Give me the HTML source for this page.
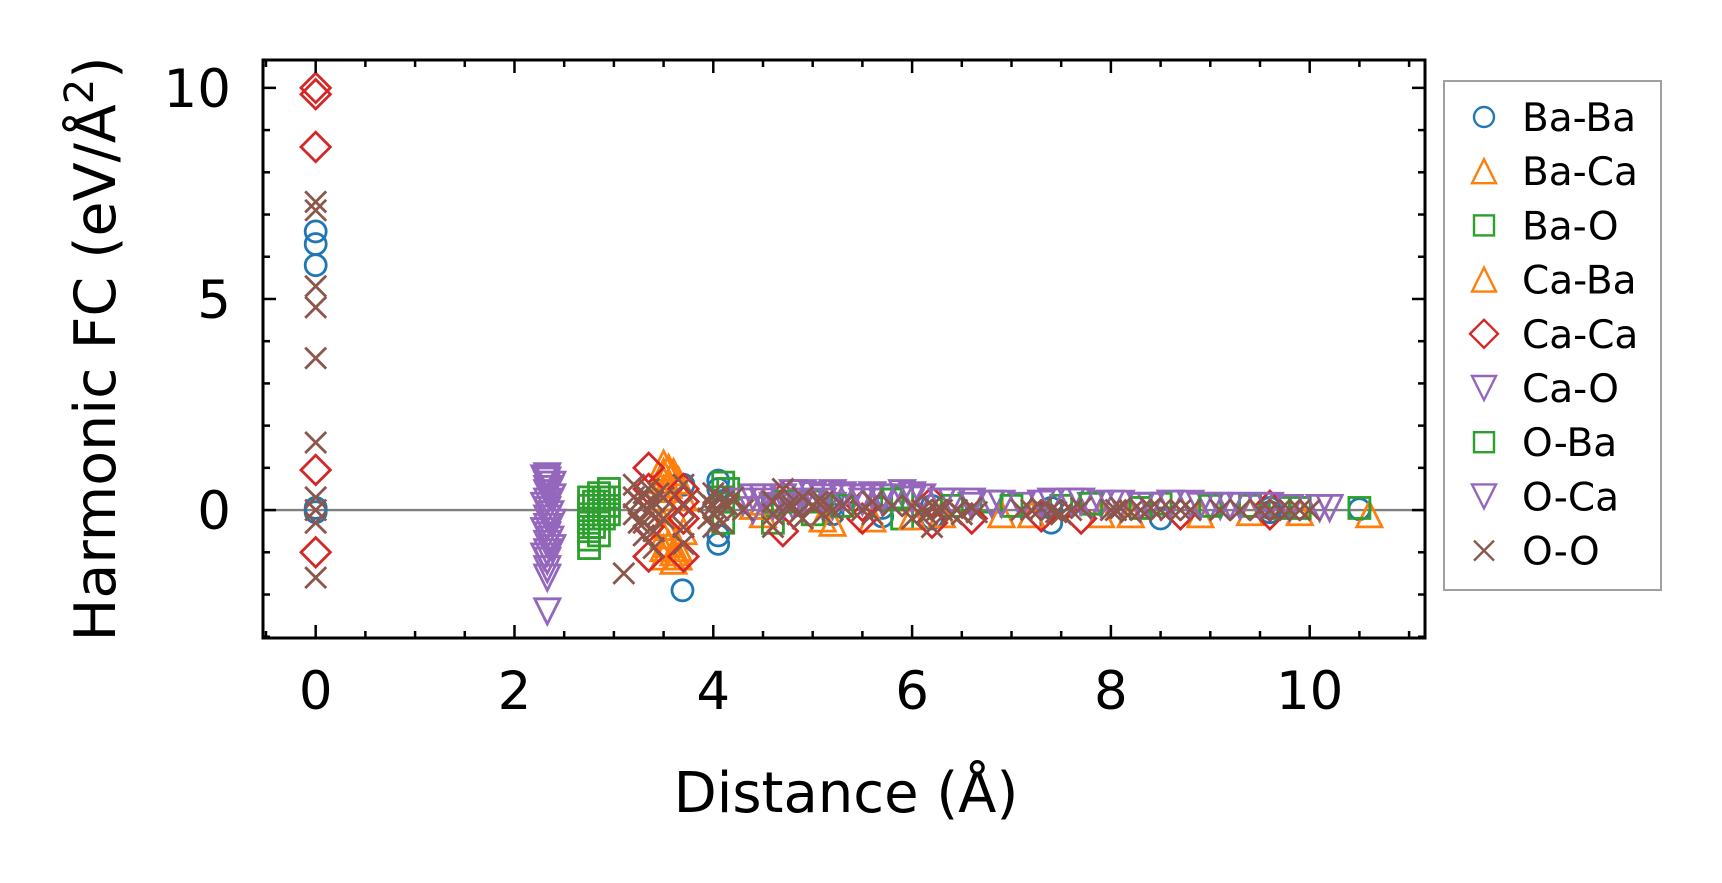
<!DOCTYPE html>
<html><head><meta charset="utf-8"><style>
html,body{margin:0;padding:0;background:#fff;}
svg{display:block;font-family:"DejaVu Sans","Liberation Sans",sans-serif;}
</style></head><body>
<svg id="chart" width="1722" height="883" viewBox="0 0 1722 883">
<rect x="0" y="0" width="1722" height="883" fill="#fff"/>
<g id="plot"></g>
<g id="axes"></g>
<g id="legend"></g>
</svg>
<script>
const xTicks = [0, 2, 4, 6, 8, 10];
const yTicks = [0, 5, 10];
const seriesNames = ["Ba-Ba","Ba-Ca","Ba-O","Ca-Ba","Ca-Ca","Ca-O","O-Ba","O-Ca","O-O"];
const seriesColors = ["#1f77b4","#ff7f0e","#2ca02c","#ff7f0e","#d62728","#9467bd","#2ca02c","#9467bd","#8c564b"];
const seriesMarkers = ["circle","up","square","up","diamond","down","square","down","x"];

const baBaX = [0,0,0,0,0,3.7,3.69,4.05,4.05,4.05,4.05,5.2,5.2,5.7,5.7,6.2,6.2,7.4,7.4,8.5,9.6,9.6,10.5];
const baBaY = [6.6,6.3,5.8,0.05,-0.05,0.6,-1.9,0.7,0.5,-0.6,-0.8,0.1,-0.1,0.05,-0.15,0.1,-0.2,-0.3,0.05,-0.2,0.05,-0.05,0.02];
const baCaX = [3.5,3.5,3.5,3.5,3.5,3.5,3.5,3.5,3.5,3.6,3.6,3.6,3.7,3.7,4.5,4.5,5.2,5.6,6.3,7.2,8.2,9.4,10.6];
const baCaY = [1.1,0.9,0.7,0.5,0.3,-0.3,-0.6,-0.9,-1.1,0.9,-1.0,-1.2,0.3,-0.5,0.2,-0.1,-0.3,-0.2,-0.1,-0.1,-0.1,-0.05,-0.1];
const baOX = [2.75,2.75,2.75,2.75,2.75,2.75,2.75,2.85,2.85,2.85,2.85,2.85,2.95,2.95,2.95,2.95,4.1,4.1,4.1,4.6,4.6,5.0,5.0,5.9,5.9,6.8,7.5,8.5,9.4,9.7,10.5];
const baOY = [0.3,0.1,-0.1,-0.3,-0.5,-0.7,-0.9,0.4,0.2,0,-0.2,-0.6,0.5,0.3,0.1,-0.1,0.65,0.3,-0.3,0.1,-0.3,0.2,-0.1,0.3,-0.2,0.2,0.1,0.15,0.1,0.05,0.05];
const caBaX = [3.55,3.55,3.55,3.55,3.65,3.65,3.65,4.4,5.1,6.0,6.9,7.9,8.9,9.9];
const caBaY = [1.0,0.6,-0.4,-0.8,0.7,-0.9,-1.1,0.1,-0.2,-0.15,-0.1,-0.1,-0.1,-0.05];
const caCaX = [0,0,0,0,0,3.35,3.35,3.35,3.35,3.7,3.7,3.7,3.7,4.7,4.7,5.5,5.5,6.2,6.2,6.6,7.3,7.7,8.7,9.6,9.6];
const caCaY = [10.0,9.85,8.6,0.95,-1.0,1.0,-1.1,0.5,-0.4,0.5,0.2,-0.2,-1.1,0.3,-0.5,0.1,-0.2,0.2,-0.3,-0.2,-0.15,-0.2,-0.1,0.1,-0.1];
const caOX = [2.33,2.33,2.33,2.33,2.33,2.33,2.33,2.33,2.33,2.33,2.33,2.33,2.33,2.33,2.33,2.33,2.38,2.38,2.38,2.38,4.4,4.4,4.5,4.6,4.7,4.8,4.8,4.9,5.0,5.1,5.2,5.2,5.3,5.4,5.5,5.6,5.7,5.8,5.9,6.0,6.1,6.3,6.4,6.6,6.8,7.1,7.3,7.4,7.6,7.8,7.9,8.1,8.3,8.4,8.6,8.8,9.0,9.1,9.3,9.6,10.2];
const caOY = [0.8,0.7,0.6,0.5,0.4,0.2,0,-0.2,-0.4,-0.6,-0.8,-1.0,-1.2,-1.4,-1.6,-2.4,0.6,0.3,-0.3,-0.9,0.3,0,0.2,0.1,0.3,0.4,0.1,0.2,0.35,0.2,0.4,0.1,0.3,0.3,0.2,0.35,0.2,0.3,0.4,0.25,0.3,0.2,0.2,0.1,0.15,0.1,0.15,0.2,0.2,0.1,0.15,0.15,0.1,0.1,0.15,0.15,0.1,0.1,0.1,0.1,0.05];
const oBaX = [2.8,2.8,2.9,2.9,4.15,4.7,5.3,5.8,6.4,7.0,7.8,8.3,9.0,9.9];
const oBaY = [0.2,-0.4,0.3,-0.2,0.5,0.2,0.1,0.25,0.1,0.1,0.15,0.05,0.1,0.05];
const oCaX = [2.3,2.3,2.3,2.3,2.36,2.36,2.36,4.3,4.5,4.7,4.9,5.1,5.3,5.5,5.7,6.0,6.3,6.6,6.9,7.3,7.7,8.0,8.3,8.6,8.9,9.2,9.5,9.8,10.1];
const oCaY = [0.75,0.1,-0.5,-1.1,0.5,-0.1,-0.7,0.2,0.3,0.1,0.4,0.3,0.35,0.3,0.3,0.35,0.2,0.2,0.15,0.15,0.2,0.15,0.1,0.15,0.1,0.1,0.1,0.05,0.05];
const oOX = [0,0,0,0,0,0,0,0,0,0,3.1,3.2,3.2,3.2,3.25,3.25,3.3,3.3,3.3,3.3,3.35,3.35,3.4,3.4,3.4,3.45,3.45,3.5,3.5,3.7,3.7,3.7,3.7,3.95,3.95,4.0,4.0,4.0,4.0,4.05,4.05,4.1,4.1,4.15,4.2,4.3,4.6,4.6,4.6,4.7,4.75,4.8,4.85,4.9,4.9,5.0,5.05,5.1,5.1,5.2,5.3,5.5,5.6,5.6,5.8,6.0,6.0,6.1,6.15,6.2,6.2,6.25,6.3,6.4,6.45,6.5,6.6,6.65,7.1,7.2,7.3,7.4,7.45,7.5,7.6,7.7,8.0,8.05,8.1,8.2,8.3,8.4,8.5,8.6,8.7,8.8,9.1,9.3,9.5,9.6,9.7,9.8,9.9,10.0];
const oOY = [7.3,7.1,5.3,4.8,3.6,1.6,0.3,0,-0.3,-1.6,-1.5,0.6,0.3,-0.1,0.2,-0.3,0.4,0.1,-0.3,-0.6,0.5,0.0,0.2,-0.9,-0.5,0.4,-0.1,0.3,-0.2,0.6,0.1,-0.4,-0.8,0.2,-0.2,0.4,0.1,-0.1,-0.4,0.3,0.0,0.2,-0.3,0.1,0.3,0.0,0.2,-0.1,-0.4,0.5,0.1,0.1,-0.1,0.3,-0.2,0.1,0.2,-0.1,0.2,0.0,0.1,0.0,0.2,-0.1,0.1,0.1,-0.2,0.0,-0.1,-0.4,0.1,0.0,0,-0.1,0.0,-0.1,0.05,-0.05,0,0.0,0.05,0,-0.05,-0.1,0,0.05,0,0.0,0.05,-0.05,0,0.05,0,0,0,0,0,0,0,0,0,0,0,0];

const seriesX = [baBaX,baCaX,baOX,caBaX,caCaX,caOX,oBaX,oCaX,oOX];
const seriesY = [baBaY,baCaY,baOY,caBaY,caCaY,caOY,oBaY,oCaY,oOY];

const L=263,R=1425,T=60,B=638;
const xMin=-0.53,xMax=11.16,yMin=-3.03,yMax=10.66;
function sx(v){return L+(v-xMin)/(xMax-xMin)*(R-L);}
function sy(v){return B-(v-yMin)/(yMax-yMin)*(B-T);}
const NS="http://www.w3.org/2000/svg";
function mk(tag,attrs,parent){const e=document.createElementNS(NS,tag);for(const k in attrs)e.setAttribute(k,attrs[k]);parent.appendChild(e);return e;}

function marker(type,cx,cy,color,parent,s,w){
  let e;
  const st={fill:"none",stroke:color,"stroke-width":w};
  if(type==="circle"){e=mk("circle",Object.assign({cx:cx,cy:cy,r:s*0.5},st),parent);}
  else if(type==="square"){e=mk("rect",Object.assign({x:cx-s*0.5,y:cy-s*0.5,width:s,height:s},st),parent);}
  else if(type==="up"){const h=s*0.6;e=mk("polygon",Object.assign({points:`${cx},${cy-h} ${cx-h},${cy+h} ${cx+h},${cy+h}`},st),parent);}
  else if(type==="down"){const h=s*0.6;e=mk("polygon",Object.assign({points:`${cx},${cy+h} ${cx-h},${cy-h} ${cx+h},${cy-h}`},st),parent);}
  else if(type==="diamond"){const h=s*0.7;e=mk("polygon",Object.assign({points:`${cx},${cy-h} ${cx+h},${cy} ${cx},${cy+h} ${cx-h},${cy}`},st),parent);}
  else {const h=s*0.5;e=mk("path",Object.assign({d:`M${cx-h},${cy-h}L${cx+h},${cy+h}M${cx-h},${cy+h}L${cx+h},${cy-h}`},st),parent);}
  return e;
}

const plot=document.getElementById('plot');
const zl=mk("line",{x1:L,x2:R,y1:sy(0),y2:sy(0),stroke:"#808080","stroke-width":2.4},plot);


seriesNames.forEach((name,i)=>{
  const g=mk("g",{},plot);
  
  
  seriesX[i].forEach((xv,j)=>{
    const m=marker(seriesMarkers[i],sx(xv),sy(seriesY[i][j]),seriesColors[i],g,21,2.8);
    
    
  });
});

const axes=document.getElementById('axes');
const frame=mk("rect",{x:L,y:T,width:R-L,height:B-T,fill:"none",stroke:"#000","stroke-width":3},axes);


function tick(x1,y1,x2,y2){mk("line",{x1:x1,y1:y1,x2:x2,y2:y2,stroke:"#000","stroke-width":2.5},axes);}
for(let v=-0.5;v<=11.0001;v+=0.5){
  const major=Math.abs(v-Math.round(v/2)*2)<1e-6;
  const len=major?13:7;const x=sx(v);
  tick(x,B,x,B-len);tick(x,T,x,T+len);
}
for(let v=-3;v<=10;v+=1){
  const major=v%5===0;const len=major?13:7;const y=sy(v);
  tick(L,y,L+len,y);tick(R,y,R-len,y);
}
xTicks.forEach(v=>{
  const t=mk("text",{x:sx(v),y:709,"font-size":53,"text-anchor":"middle"},axes);
  t.textContent=v;
  
  
});
yTicks.forEach(v=>{
  const t=mk("text",{x:231,y:sy(v)+19,"font-size":53,"text-anchor":"end"},axes);
  t.textContent=v;
  
  
});
const xl=mk("text",{x:846,y:812,"font-size":56,"text-anchor":"middle"},axes);
xl.textContent="Distance (Å)";


const yl=mk("text",{x:0,y:0,"font-size":57,"text-anchor":"middle",transform:"translate(115,349) rotate(-90)"},axes);
yl.innerHTML='Harmonic FC (eV/Å<tspan dy="-22" font-size="40">2</tspan><tspan dy="22">)</tspan>';



const lg=document.getElementById('legend');
const box=mk("rect",{x:1444,y:81,width:217,height:509,fill:"#fff",stroke:"#a0a0a0","stroke-width":2},lg);


seriesNames.forEach((name,i)=>{
  const y=117+i*54.2;
  const g=mk("g",{},lg);
  
  
  marker(seriesMarkers[i],1484,y,seriesColors[i],g,20,2.4);
  const t=mk("text",{x:1522,y:y+14,"font-size":39},g);
  t.textContent=name;
});
</script>
</body></html>
